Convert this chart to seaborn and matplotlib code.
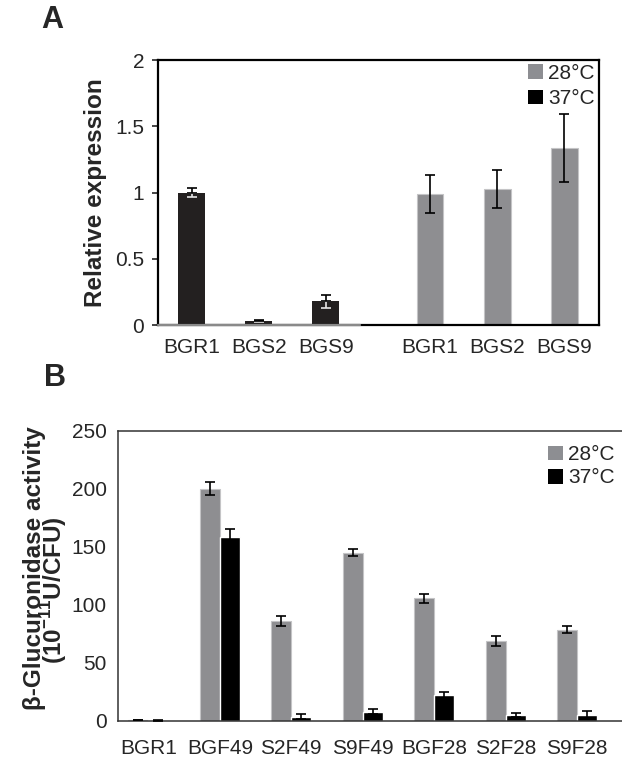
import matplotlib
matplotlib.use('Agg')
import matplotlib.pyplot as plt
import seaborn as sns
import pandas as pd
import numpy as np
from matplotlib.patches import Patch

# panel A - relative expression
genes_a = ['BGR1', 'BGS2', 'BGS9']
expr_37 = [1.00, 0.033, 0.18]
err_37 = [0.035, 0.008, 0.05]
expr_28 = [0.99, 1.025, 1.335]
err_28 = [0.145, 0.145, 0.255]

# panel B - beta-glucuronidase activity
strains_b = ['BGR1', 'BGF49', 'S2F49', 'S9F49', 'BGF28', 'S2F28', 'S9F28']
act_28 = [0.8, 200, 86, 145, 105.5, 69, 78.5]
err_b28 = [0.3, 5.5, 4, 3.3, 4.2, 4.2, 3]
act_37 = [0.7, 158.5, 3.7, 8, 22, 5.2, 5.2]
err_b37 = [0.3, 6.5, 2, 2.3, 3.2, 1.7, 3.4]

sns.set_style('white')
plt.rcParams['font.family'] = ['Liberation Sans', 'DejaVu Sans']
plt.rcParams['mathtext.fontset'] = 'custom'
plt.rcParams['mathtext.bf'] = 'Liberation Sans:bold'
plt.rcParams['mathtext.rm'] = 'Liberation Sans'

GREY = '#8d8e92'
EDGE = '#c4c4c6'
DARK = '#231f20'
fs = 15
fs_lab = 17.5

fig = plt.figure(figsize=(6.22, 7.62), dpi=100)
axA = fig.add_axes([158/622, 1-325/762, 441.3/622, 265/762])
axB = fig.add_axes([117.7/622, 41/762, 504.3/622, 290.3/762])

# ---- A ----
gap = 0.55
pos = np.r_[np.arange(3), np.arange(3) + 3 + gap]
dfA = pd.DataFrame({'pos': pos, 'val': expr_37 + expr_28,
                    'temp': ['37°C']*3 + ['28°C']*3})
sns.barplot(data=dfA, x='pos', y='val', hue='temp', native_scale=True, dodge=False,
            width=0.4, palette={'37°C': DARK, '28°C': GREY}, errorbar=None,
            legend=False, ax=axA, zorder=2)
for p in axA.patches:
    if p.get_x() > 2.5:
        p.set_edgecolor(EDGE)
        p.set_linewidth(0.8)
    else:
        p.set_linewidth(0)

axA.errorbar(pos[3:], expr_28, yerr=err_28, fmt='none', ecolor='black',
             elinewidth=1.2, capsize=3.5, capthick=1.2, zorder=4)
axA.errorbar(pos[:3], expr_37, yerr=[err_37, np.zeros(3)], fmt='none', ecolor='#e6e6e6',
             elinewidth=1.2, capsize=3.5, capthick=1.2, zorder=4)
axA.errorbar(pos[:3], expr_37, yerr=[np.zeros(3), err_37], fmt='none', ecolor='black',
             elinewidth=1.2, capsize=3.5, capthick=1.2, zorder=5)

xlo, xhi = -0.5, pos[-1] + 0.52
axA.set_xlim(xlo, xhi)
axA.set_ylim(0, 2)
axA.set_xticks(pos, genes_a * 2)
axA.set_yticks([0, 0.5, 1, 1.5, 2], ['0', '0.5', '1', '1.5', '2'])
axA.set_xlabel('')
axA.set_ylabel('Relative expression', fontsize=fs_lab, fontweight='bold', labelpad=6)
for s in axA.spines.values():
    s.set_visible(True)
    s.set_color('black')
    s.set_linewidth(1.6)
axA.tick_params(axis='y', left=True, length=4, width=1.2, direction='out', pad=6, labelsize=fs)
axA.tick_params(axis='x', bottom=False, length=0, pad=9, labelsize=fs)
axA.axhline(0, xmin=0, xmax=(pos[2] + 0.5 - xlo) / (xhi - xlo), color='#8a8a8a',
            lw=1.6, zorder=6, clip_on=False)

handles = [Patch(facecolor=GREY, edgecolor='none', label='28°C'),
           Patch(facecolor='black', edgecolor='none', label='37°C')]
axA.legend(handles=handles, loc='upper right', bbox_to_anchor=(0.99, 0.985), frameon=False,
           fontsize=fs, handlelength=0.72, handleheight=0.72, handletextpad=0.25,
           labelspacing=0.3, borderpad=0, borderaxespad=0)

# ---- B ----
dfB = pd.DataFrame({'strain': strains_b * 2, 'val': act_28 + act_37,
                    'temp': ['28°C']*7 + ['37°C']*7})
sns.barplot(data=dfB, x='strain', y='val', hue='temp', order=strains_b,
            hue_order=['28°C', '37°C'], palette={'28°C': GREY, '37°C': 'black'},
            width=0.56, dodge=True, errorbar=None, legend=False, ax=axB, zorder=2)
for cont, vals, errs in zip(axB.containers, [act_28, act_37], [err_b28, err_b37]):
    xs = [b.get_x() + b.get_width() / 2 for b in cont]
    axB.errorbar(xs, vals, yerr=errs, fmt='none', ecolor='black',
                 elinewidth=1.2, capsize=3.5, capthick=1.2, zorder=4)
for b in axB.containers[0]:
    b.set_edgecolor(EDGE)
    b.set_linewidth(0.8)

axB.set_xlim(-0.43, 6.63)
axB.set_ylim(0, 250)
axB.set_yticks(np.arange(0, 251, 50))
axB.set_xlabel('')
axB.set_ylabel('')
axB.text(-0.152, 0.527, 'β-Glucuronidase activity', transform=axB.transAxes, rotation=90,
         rotation_mode='anchor', ha='center', va='baseline', fontsize=fs_lab, fontweight='bold')
axB.text(-0.11, 0.45, '(10$^{\\mathbf{-11}}$U/CFU)', transform=axB.transAxes, rotation=90,
         rotation_mode='anchor', ha='center', va='baseline', fontsize=fs_lab, fontweight='bold')
for s in axB.spines.values():
    s.set_color('#333333')
    s.set_linewidth(1.1)
axB.spines['right'].set_visible(False)
axB.tick_params(axis='y', left=False, length=0, pad=8, labelsize=fs)
axB.tick_params(axis='x', bottom=False, length=0, pad=13, labelsize=fs)

handles = [Patch(facecolor=GREY, edgecolor='none', label='28°C'),
           Patch(facecolor='black', edgecolor='none', label='37°C')]
axB.legend(handles=handles, loc='upper right', bbox_to_anchor=(0.985, 0.95), frameon=False,
           fontsize=fs, handlelength=0.72, handleheight=0.72, handletextpad=0.25,
           labelspacing=0.2, borderpad=0, borderaxespad=0)

fig.text(52/622, 1 - 20/762, 'A', fontsize=22, fontweight='bold', ha='center', va='center')
fig.text(55/622, 1 - 378/762, 'B', fontsize=22, fontweight='bold', ha='center', va='center')

fig.savefig('out.png', dpi=100)
